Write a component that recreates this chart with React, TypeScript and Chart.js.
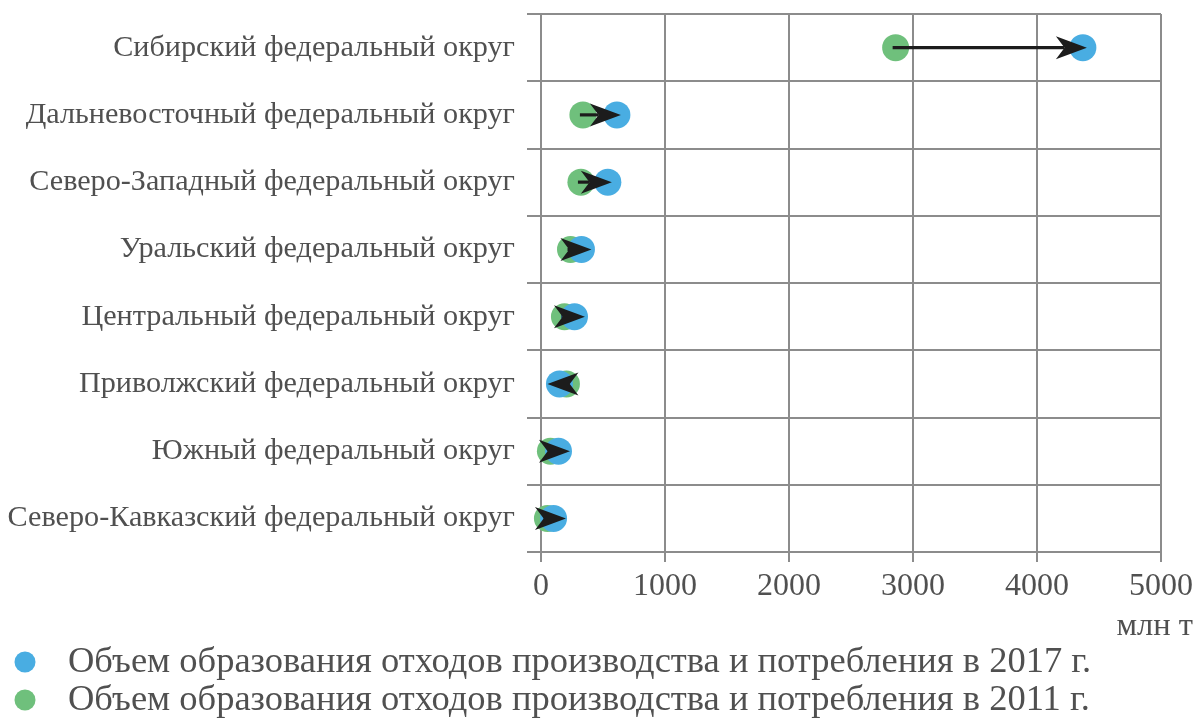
import React, { useEffect, useRef } from 'react';
import { Chart, registerables } from 'chart.js';

Chart.register(...registerables);

const categories = [
  'Сибирский федеральный округ',
  'Дальневосточный федеральный округ',
  'Северо-Западный федеральный округ',
  'Уральский федеральный округ',
  'Центральный федеральный округ',
  'Приволжский федеральный округ',
  'Южный федеральный округ',
  'Северо-Кавказский федеральный округ',
];

const values2017 = [4370, 612, 539, 326, 270, 149, 141, 101];
const values2011 = [2860, 338, 322, 238, 189, 205, 76, 52];

const xTicks = [0, 1000, 2000, 3000, 4000, 5000];
const unitLabel = 'млн т';
const seriesLabels = [
  'Объем образования отходов производства и потребления в 2017 г.',
  'Объем образования отходов производства и потребления в 2011 г.',
];

const BLUE = '#49ade2';
const GREEN = '#6fc07c';
const TEXT = '#505050';
const GRID = '#8c8c8c';
const FONT = '"Liberation Serif", "DejaVu Serif", serif';

const arrowPlugin = {
  id: 'arrows',
  afterDatasetsDraw(chart: any) {
    const { ctx } = chart;
    const xs = chart.scales.x;
    const ys = chart.scales.y;
    ctx.save();
    categories.forEach((_, i) => {
      const x0 = xs.getPixelForValue(values2011[i]);
      const x1 = xs.getPixelForValue(values2017[i]);
      const yy = ys.getPixelForValue(i);
      const dir = x1 >= x0 ? 1 : -1;
      const L = 31;
      const W = 11.5;
      const mid = (x0 + x1) / 2;
      let tip = x1 + 4 * dir;
      const alt = mid + (dir * L) / 2;
      if ((alt - tip) * dir > 0) tip = alt;
      const back = tip - dir * L;
      const notch = tip - dir * L * 0.72;
      const tail = x0 - 3 * dir;
      ctx.strokeStyle = '#1c1c1c';
      ctx.fillStyle = '#1c1c1c';
      ctx.lineWidth = 3.2;
      ctx.beginPath();
      ctx.moveTo(tail, yy);
      ctx.lineTo(notch, yy);
      ctx.stroke();
      ctx.beginPath();
      ctx.moveTo(tip, yy);
      ctx.lineTo(back, yy - W);
      ctx.lineTo(notch, yy);
      ctx.lineTo(back, yy + W);
      ctx.closePath();
      ctx.fill();
    });
    ctx.restore();
  },
};

const legendPlugin = {
  id: 'customLegend',
  afterDraw(chart: any) {
    const { ctx } = chart;
    const base = chart.scales.x.bottom;
    ctx.save();
    // axis unit label
    ctx.fillStyle = TEXT;
    ctx.font = `32.5px ${FONT}`;
    ctx.textAlign = 'right';
    ctx.textBaseline = 'middle';
    ctx.fillText(unitLabel, 1193, base - 4);
    // legend
    chart.data.datasets.forEach((ds: any, i: number) => {
      const cy = base + 32 + i * 38;
      ctx.beginPath();
      ctx.arc(25, cy, 10.5, 0, Math.PI * 2);
      ctx.fillStyle = ds.backgroundColor;
      ctx.fill();
      ctx.fillStyle = TEXT;
      ctx.font = `36.5px ${FONT}`;
      ctx.textAlign = 'left';
      ctx.textBaseline = 'middle';
      ctx.fillText(ds.label, 68, cy);
    });
    ctx.restore();
  },
};

export default function App() {
  const ref = useRef<HTMLCanvasElement | null>(null);

  useEffect(() => {
    if (!ref.current) return;
    const chart = new Chart(ref.current, {
      type: 'scatter',
      data: {
        labels: categories,
        datasets: [
          {
            label: seriesLabels[0],
            data: values2017.map((v, i) => ({ x: v, y: i })),
            backgroundColor: BLUE,
            borderWidth: 0,
            pointRadius: 13.5,
            clip: false as any,
          },
          {
            label: seriesLabels[1],
            data: values2011.map((v, i) => ({ x: v, y: i })),
            backgroundColor: GREEN,
            borderWidth: 0,
            pointRadius: 13.5,
            clip: false as any,
          },
        ],
      },
      plugins: [arrowPlugin, legendPlugin],
      options: {
        animation: false,
        responsive: false,
        events: [],
        layout: { padding: { left: 0, right: 40, top: 14, bottom: 95 } },
        plugins: {
          legend: { display: false },
          tooltip: { enabled: false },
        },
        scales: {
          x: {
            type: 'linear',
            min: 0,
            max: 5000,
            afterBuildTicks: (scale: any) => {
              scale.ticks = xTicks.map((v) => ({ value: v }));
            },
            afterFit: (scale: any) => {
              scale.height = 725 - 95 - 552;
              scale.paddingLeft = 0;
              scale.paddingRight = 0;
            },
            ticks: {
              color: TEXT,
              font: { family: FONT, size: 32 },
              padding: 5,
              maxRotation: 0,
              callback: (v: any) => String(v),
            },
            grid: { color: GRID, lineWidth: 2, tickLength: 10 },
            border: { display: true, color: GRID, width: 2 },
          },
          y: {
            type: 'category',
            labels: categories,
            offset: true,
            afterFit: (scale: any) => {
              scale.width = 541;
              scale.paddingTop = 0;
              scale.paddingBottom = 0;
            },
            ticks: {
              color: TEXT,
              font: { family: FONT, size: 30.2 },
              padding: 12,
            },
            grid: { color: GRID, lineWidth: 2, tickLength: 14, offset: true },
            border: { display: true, color: GRID, width: 2 },
          },
        },
      } as any,
    });
    return () => chart.destroy();
  }, []);

  return (
    <div style={{ position: 'fixed', left: 0, top: 0, width: 1201, height: 725, background: '#fff' }}>
      <canvas ref={ref} width={1201} height={725} style={{ display: 'block' }} />
    </div>
  );
}
